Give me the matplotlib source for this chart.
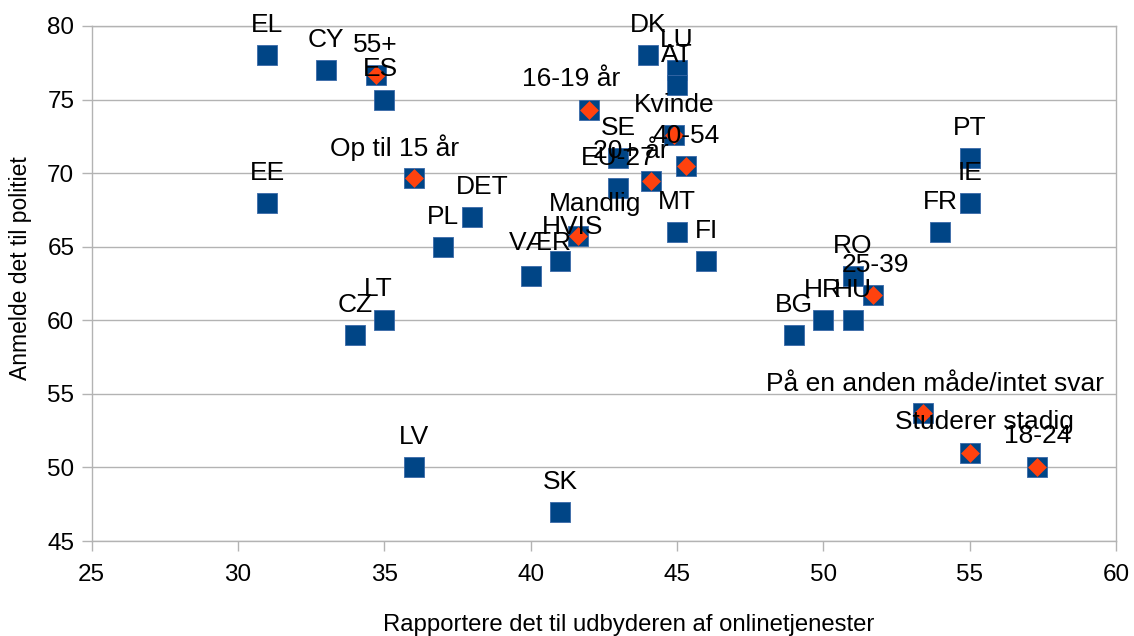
import matplotlib
matplotlib.use("Agg")
import matplotlib.pyplot as plt

plt.rcParams['font.family'] = ['Liberation Sans', 'DejaVu Sans']

# Countries (blue squares)
countries = ["EL", "CY", "ES", "EE", "DET", "PL", "VÆR", "HVIS", "CZ", "LT", "LV", "SK",
             "DK", "LU", "AT", "SE", "EU-27", "MT", "FI", "BG", "HR", "HU", "RO", "FR", "IE", "PT"]
country_x = [31, 33, 35, 31, 38, 37, 40, 41, 34, 35, 36, 41,
             44, 45, 45, 43, 43, 45, 46, 49, 50, 51, 51, 54, 55, 55]
country_y = [78, 77, 75, 68, 67, 65, 63, 64, 59, 60, 50, 47,
             78, 77, 76, 71, 69, 66, 64, 59, 60, 60, 63, 66, 68, 71]

# Socio-demographic groups (orange diamonds)
groups = ["55+", "Op til 15 år", "16-19 år", "Kvinde", "40-54", "20+ år", "Mandlig",
          "25-39", "På en anden måde/intet svar", "Studerer stadig", "18-24"]
group_x = [34.7, 36.0, 42.0, 44.9, 45.3, 44.1, 41.6, 51.7, 53.4, 55.0, 57.3]
group_y = [76.7, 69.7, 74.3, 72.6, 70.5, 69.5, 65.7, 61.7, 53.7, 51.0, 50.0]

x_ticks = [25, 30, 35, 40, 45, 50, 55, 60]
y_ticks = [45, 50, 55, 60, 65, 70, 75, 80]

# label offsets in pixels (dx, dy above point)
country_off = {"ES": (-4, 31), "DET": (10, 30), "LT": (-6, 31), "VÆR": (10, 33), "HVIS": (13, 34)}
group_off = {"Op til 15 år": (-19, 30), "16-19 år": (-18, 31), "20+ år": (-20, 30),
             "Mandlig": (18, 32), "25-39": (2, 30), "På en anden måde/intet svar": (12, 29),
             "Studerer stadig": (15, 31), "18-24": (1, 31)}

BLUE = "#004586"
ORANGE = "#ff420e"
GRID = "#b3b3b3"
PX = 72 / 100.0

fig = plt.figure(figsize=(11.34, 6.36), dpi=100)
ax = fig.add_axes([91.7 / 1134, 1 - 541 / 636, (1116 - 91.7) / 1134, (541 - 26) / 636])

ax.scatter(country_x, country_y, marker='s', s=(19.5 * PX) ** 2, color=BLUE,
           edgecolors='#3a6aa8', linewidths=0.6, zorder=3)
ax.scatter(group_x, group_y, marker='s', s=(19.5 * PX) ** 2, color=BLUE,
           edgecolors='#3a6aa8', linewidths=0.6, zorder=4)
ax.scatter(group_x, group_y, marker='D', s=9.6 ** 2, color=ORANGE,
           linewidths=0, zorder=5)

def label(names, xs, ys, offs):
    for n, x, y in zip(names, xs, ys):
        dx, dy = offs.get(n, (0, 30))
        ax.annotate(n, (x, y), xytext=(dx * PX, dy * PX), textcoords='offset points',
                    ha='center', va='center', fontsize=19, color='black', zorder=10)

label(countries, country_x, country_y, country_off)
label(groups, group_x, group_y, group_off)

ax.set_xlim(25, 60)
ax.set_ylim(45, 80)
ax.set_xticks(x_ticks)
ax.set_yticks(y_ticks)
ax.yaxis.grid(True, color=GRID, linewidth=1.0)
ax.set_axisbelow(True)
for sp in ax.spines.values():
    sp.set_color(GRID)
    sp.set_linewidth(1.0)
ax.tick_params(axis='both', colors=GRID, labelcolor='black', labelsize=17.5,
               length=7.5, width=1.0, direction='out')
ax.tick_params(axis='x', pad=9)
ax.tick_params(axis='y', pad=5)

fig.text(629 / 1134, 1 - 625 / 636, "Rapportere det til udbyderen af onlinetjenester",
         ha='center', va='center', fontsize=17.2)
fig.text(21 / 1134, 1 - 268 / 636, "Anmelde det til politiet", rotation=90,
         ha='center', va='center', fontsize=16.5)

fig.savefig("out.png", dpi=100)
